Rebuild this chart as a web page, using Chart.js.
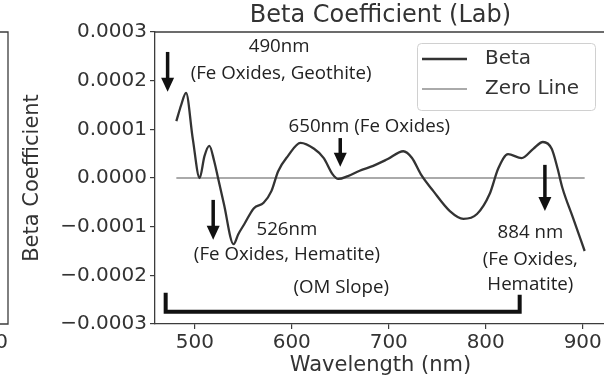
<!DOCTYPE html>
<html>
<head>
<meta charset="utf-8">
<title>Beta Coefficient (Lab)</title>
<script src="https://cdn.jsdelivr.net/npm/chart.js@4.4.1/dist/chart.umd.min.js"></script>
<style>
  html, body { margin: 0; padding: 0; background: #fff; overflow: hidden; }
  #wrap { position: relative; width: 610px; height: 381px; }
</style>
</head>
<body>
<div id="wrap"><canvas id="betaChart" width="610" height="381"></canvas></div>
<script>
// Beta coefficient vs wavelength
const wavelengths = [481, 486, 491, 498, 505, 510, 515, 520, 524, 530, 540, 545, 551, 561, 571, 579, 586, 596, 609, 623, 633, 642, 648, 658, 670, 684, 699, 715, 724, 733, 746, 763, 777, 791, 804, 813, 823, 837, 849, 859, 868, 874, 879, 890, 902];
const betaValues = [0.000117, 0.000150, 0.000175, 0.000080, 0.000000, 0.000045, 0.000066, 0.000035, 0.000000, -0.000053, -0.000136, -0.000115, -0.000095, -0.000062, -0.000051, -0.000027, 0.000014, 0.000045, 0.000072, 0.000060, 0.000041, 0.000008, -0.000002, 0.000004, 0.000015, 0.000025, 0.000039, 0.000055, 0.000041, 0.000008, -0.000027, -0.000068, -0.000084, -0.000074, -0.000033, 0.000020, 0.000049, 0.000041, 0.000060, 0.000074, 0.000060, 0.000020, -0.000020, -0.000082, -0.000150];
const zeroX = [481, 902];
const zeroY = [0, 0];
const xTicks = [500, 600, 700, 800, 900];
const yTicks = [-0.0003, -0.0002, -0.0001, 0, 0.0001, 0.0002, 0.0003];

// callouts (data coordinates)
const labels = [
    { text: '490nm', x: 587, y: 0.000269 },
    { text: '(Fe Oxides, Geothite)', x: 589, y: 0.000214 },
    { text: '650nm (Fe Oxides)', x: 680, y: 0.000105 },
    { text: '526nm', x: 595, y: -0.000107 },
    { text: '(Fe Oxides, Hematite)', x: 595, y: -0.000158 },
    { text: '(OM Slope)', x: 651, y: -0.000226 },
    { text: '884 nm', x: 846, y: -0.000113 },
    { text: '(Fe Oxides,', x: 846, y: -0.000168 },
    { text: 'Hematite)', x: 846, y: -0.000220 }
];
const arrows = [
    { x: 472, from: 0.000259, to: 0.000177 },
    { x: 650, from: 0.000082, to: 0.000023 },
    { x: 519, from: -0.000045, to: -0.000127 },
    { x: 861, from: 0.000027, to: -0.000068 }
];
const bracket = { left: 470, right: 835, leftTop: -0.000236, rightTop: -0.000240, bottom: -0.000275 };

const axisColor = '#3c3c3c';
const textColor = '#333';

document.addEventListener('DOMContentLoaded', function() {
    drawChart();
});

function pairs(xs, ys) {
    return xs.map((x, i) => ({ x: x, y: ys[i] }));
}

function formatBeta(v) {
    const s = Math.abs(v).toFixed(4);
    return v < -1e-9 ? '\u2212' + s : s;
}

const calloutPlugin = {
    id: 'callouts',
    afterDatasetsDraw(chart) {
        const { ctx, chartArea, scales } = chart;
        const x = scales.x, y = scales.y;
        ctx.save();

        // top / right spines
        ctx.strokeStyle = axisColor;
        ctx.lineWidth = 1.3;
        ctx.beginPath();
        ctx.moveTo(chartArea.left, chartArea.top);
        ctx.lineTo(chartArea.right, chartArea.top);
        ctx.lineTo(chartArea.right, chartArea.bottom);
        ctx.stroke();

        // edge of the neighbouring panel
        ctx.beginPath();
        ctx.moveTo(0, chartArea.top);
        ctx.lineTo(8, chartArea.top);
        ctx.lineTo(8, chartArea.bottom);
        ctx.lineTo(0, chartArea.bottom);
        ctx.stroke();
        ctx.fillStyle = textColor;
        ctx.font = '20px "DejaVu Sans"';
        ctx.textAlign = 'right';
        ctx.textBaseline = 'middle';
        ctx.fillText('0', 8, 343);

        // title
        ctx.font = '24px "DejaVu Sans"';
        ctx.textAlign = 'center';
        ctx.fillText('Beta Coefficient (Lab)', (chartArea.left + chartArea.right) / 2, 16);

        // callout text
        ctx.font = '18.7px "Open Sans"';
        ctx.fillStyle = '#222';
        labels.forEach(l => {
            ctx.fillText(l.text, x.getPixelForValue(l.x), y.getPixelForValue(l.y));
        });

        // arrows
        ctx.fillStyle = '#111';
        ctx.strokeStyle = '#111';
        arrows.forEach(a => {
            const px = x.getPixelForValue(a.x);
            const y0 = y.getPixelForValue(a.from);
            const y1 = y.getPixelForValue(a.to);
            ctx.lineWidth = 3.5;
            ctx.beginPath();
            ctx.moveTo(px, y0);
            ctx.lineTo(px, y1 - 12);
            ctx.stroke();
            ctx.beginPath();
            ctx.moveTo(px - 6.5, y1 - 14);
            ctx.lineTo(px + 6.5, y1 - 14);
            ctx.lineTo(px, y1);
            ctx.closePath();
            ctx.fill();
        });

        // OM slope bracket
        ctx.lineWidth = 4;
        ctx.lineJoin = 'miter';
        ctx.beginPath();
        ctx.moveTo(x.getPixelForValue(bracket.left), y.getPixelForValue(bracket.leftTop));
        ctx.lineTo(x.getPixelForValue(bracket.left), y.getPixelForValue(bracket.bottom));
        ctx.lineTo(x.getPixelForValue(bracket.right), y.getPixelForValue(bracket.bottom));
        ctx.lineTo(x.getPixelForValue(bracket.right), y.getPixelForValue(bracket.rightTop));
        ctx.stroke();

        ctx.restore();
    },
    afterDraw(chart) {
        // legend box in the upper right
        const { ctx } = chart;
        const box = { x: 417, y: 43, w: 178, h: 67 };
        ctx.save();
        ctx.fillStyle = 'rgba(255,255,255,0.85)';
        ctx.strokeStyle = '#d0d0d0';
        ctx.lineWidth = 1;
        ctx.beginPath();
        ctx.roundRect(box.x + 0.5, box.y + 0.5, box.w, box.h, 4);
        ctx.fill();
        ctx.stroke();
        ctx.font = '20px "DejaVu Sans"';
        ctx.textAlign = 'left';
        ctx.textBaseline = 'middle';
        chart.data.datasets.forEach((ds, i) => {
            const ly = box.y + 16 + i * 30;
            ctx.strokeStyle = ds.borderColor;
            ctx.lineWidth = ds.borderWidth;
            ctx.beginPath();
            ctx.moveTo(box.x + 5, ly);
            ctx.lineTo(box.x + 50, ly);
            ctx.stroke();
            ctx.fillStyle = textColor;
            ctx.fillText(ds.label, box.x + 68, ly);
        });
        ctx.restore();
    }
};

function drawChart() {
    Chart.defaults.font.family = '"DejaVu Sans"';
    Chart.defaults.color = textColor;

    const ctx = document.getElementById('betaChart').getContext('2d');
    new Chart(ctx, {
        type: 'line',
        data: {
            datasets: [{
                label: 'Beta',
                data: pairs(wavelengths, betaValues),
                borderColor: '#333333',
                borderWidth: 2.3,
                pointRadius: 0,
                cubicInterpolationMode: 'monotone'
            }, {
                label: 'Zero Line',
                data: pairs(zeroX, zeroY),
                borderColor: '#8e8e8e',
                borderWidth: 1.6,
                pointRadius: 0
            }]
        },
        options: {
            responsive: false,
            animation: false,
            devicePixelRatio: 1,
            layout: { padding: { top: 32, right: 4, left: 0, bottom: 0 } },
            plugins: {
                legend: { display: false },
                tooltip: { enabled: false }
            },
            scales: {
                x: {
                    type: 'linear',
                    min: 459,
                    max: 924,
                    afterBuildTicks: (s) => { s.ticks = xTicks.map(v => ({ value: v })); },
                    afterFit: (s) => { s.height = 57; },
                    grid: { drawOnChartArea: false, tickLength: 5, color: axisColor, lineWidth: 1.2 },
                    border: { color: axisColor, width: 1.3 },
                    ticks: { font: { size: 20 }, padding: 2, color: textColor, callback: v => String(v) },
                    title: { display: true, text: 'Wavelength (nm)', font: { size: 21 }, padding: { top: 0, bottom: 3 }, color: textColor }
                },
                y: {
                    min: -0.0003,
                    max: 0.0003,
                    afterBuildTicks: (s) => { s.ticks = yTicks.map(v => ({ value: v })); },
                    afterFit: (s) => { s.width = 155; },
                    grid: { drawOnChartArea: false, tickLength: 5, color: axisColor, lineWidth: 1.2 },
                    border: { color: axisColor, width: 1.3 },
                    ticks: { font: { size: 20 }, padding: 3, color: textColor, callback: v => formatBeta(v) },
                    title: { display: true, text: 'Beta Coefficient', font: { size: 21 }, padding: { top: 20, bottom: 0 }, color: textColor }
                }
            }
        },
        plugins: [calloutPlugin]
    });
}
</script>
</body>
</html>
